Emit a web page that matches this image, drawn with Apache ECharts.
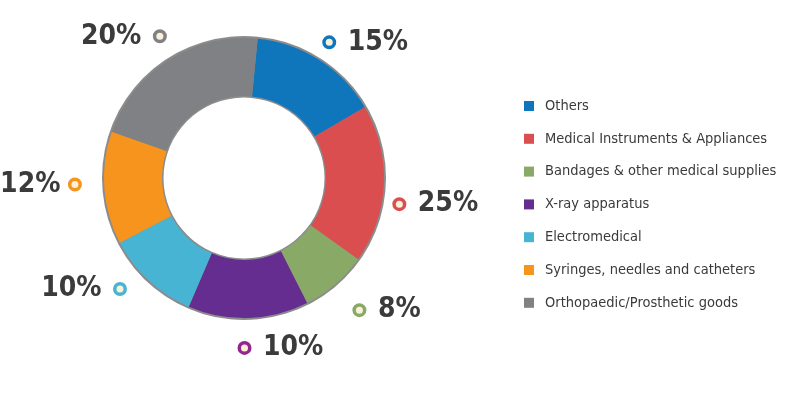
<!DOCTYPE html>
<html>
<head>
<meta charset="utf-8">
<script src="https://cdn.jsdelivr.net/npm/echarts@6/dist/echarts.min.js"></script>
<style>
html,body{margin:0;padding:0;background:#fff;}
#c{width:800px;height:394px;}
</style>
</head>
<body>
<div id="c"></div>
<script>
// Categories (legend order = slice order, clockwise from top)
const categories = [
  'Others',
  'Medical Instruments & Appliances',
  'Bandages & other medical supplies',
  'X-ray apparatus',
  'Electromedical',
  'Syringes, needles and catheters',
  'Orthopaedic/Prosthetic goods'
];
// Slice shares as drawn in the picture (% of the ring)
const sliceShares = [15, 18.3, 7.7, 13.9, 10.9, 13, 21.2];
// Percentage labels printed next to each slice
const printedLabels = ['15%', '25%', '8%', '10%', '10%', '12%', '20%'];

const sliceColors = ['#1076bc', '#da4e4f', '#89aa66', '#652d90', '#47b4d3', '#f7941d', '#808184'];
const markerColors = ['#1076bc', '#da4e4f', '#89aa66', '#92278f', '#47b4d3', '#f7941d', '#808184'];
// small label nudges [dx, dy] (styling)
const labelNudge = [[-10, 0], [-14, 19], [2, 10], [-13, 9], [-6, -7], [0, -5], [11, -6]];

const FONT = '"DejaVu Sans Condensed", "Liberation Sans Narrow", sans-serif';
const START = 84.4;
const total = sliceShares.reduce((a, b) => a + b, 0);

let cum = 0;
const sides = sliceShares.map(v => {
  const mid = (START - 360 * (cum + v / 2) / total) * Math.PI / 180;
  cum += v;
  return Math.cos(mid) >= 0 ? 'right' : 'left';
});

const rich = {
  tr: { fontFamily: FONT, fontWeight: 'bold', fontSize: 28, color: '#3b3b3b', padding: [0, 0, 0, 15] },
  tl: { fontFamily: FONT, fontWeight: 'bold', fontSize: 28, color: '#3b3b3b', padding: [0, 15, 0, 0] },
  tls: { fontFamily: FONT, fontWeight: 'bold', fontSize: 28, color: '#3b3b3b', padding: [0, 11, 0, 0] }
};
markerColors.forEach((c, i) => {
  rich['m' + i] = {
    width: 7, height: 7, borderWidth: 3.5, borderColor: c,
    backgroundColor: '#fbf0d8', borderRadius: 8, verticalAlign: 'middle'
  };
});

const data = categories.map((name, i) => ({
  name: name,
  value: sliceShares[i],
  itemStyle: { color: sliceColors[i] },
  label: {
    formatter: sides[i] === 'right'
      ? '{m' + i + '|}{tr|' + printedLabels[i] + '}'
      : '{' + (i === 5 ? 'tls' : 'tl') + '|' + printedLabels[i] + '}{m' + i + '|}'
  }
}));

const chart = echarts.init(document.getElementById('c'), null, { renderer: 'canvas' });
chart.setOption({
  animation: false,
  backgroundColor: '#ffffff',
  legend: {
    orient: 'vertical',
    left: 524,
    top: 96,
    padding: 0,
    icon: 'rect',
    itemWidth: 10,
    itemHeight: 10,
    itemGap: 12.8,
    data: categories,
    textStyle: { fontFamily: FONT, fontSize: 14.5, color: '#3a3a3a', lineHeight: 20, padding: [0, 0, 0, 6] }
  },
  series: [
    {
      type: 'pie',
      silent: true,
      center: [244, 178],
      radius: [80.5, 142],
      startAngle: START,
      clockwise: true,
      data: [{ value: 1, itemStyle: { color: '#8c8c8c' } }],
      label: { show: false },
      labelLine: { show: false },
      tooltip: { show: false }
    },
    {
      type: 'pie',
      center: [244, 178],
      radius: [82, 140],
      startAngle: START,
      clockwise: true,
      avoidLabelOverlap: false,
      data: data,
      label: {
        show: true,
        position: 'outside',
        alignTo: 'none',
        rich: rich
      },
      labelLine: { show: false, length: 21, length2: 0 },
      labelLayout: function (p) {
        const n = labelNudge[p.dataIndex] || [0, 0];
        return { dx: n[0], dy: n[1] };
      },
      emphasis: { disabled: true }
    }
  ]
});
</script>
</body>
</html>
